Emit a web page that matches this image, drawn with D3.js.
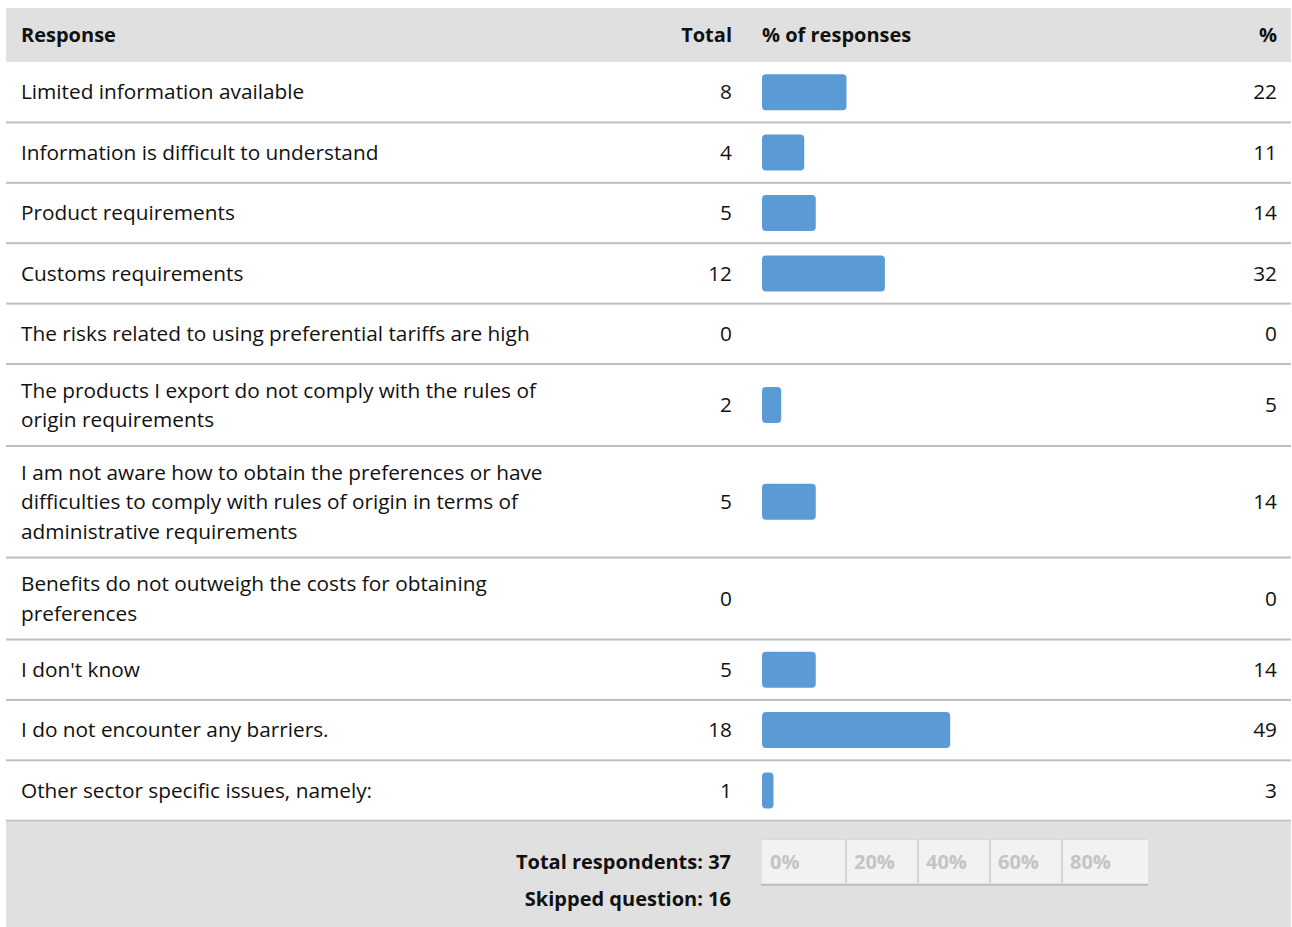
<!DOCTYPE html>
<html><head><meta charset="utf-8">
<script src="https://cdn.jsdelivr.net/npm/d3@7"></script>
<style>html,body{margin:0;padding:0;background:#fff;}svg{display:block;}</style>
</head><body>
<svg id="chart" width="1292" height="927"></svg>
<script>
const responses = [
  "Limited information available",
  "Information is difficult to understand",
  "Product requirements",
  "Customs requirements",
  "The risks related to using preferential tariffs are high",
  "The products I export do not comply with the rules of\norigin requirements",
  "I am not aware how to obtain the preferences or have\ndifficulties to comply with rules of origin in terms of\nadministrative requirements",
  "Benefits do not outweigh the costs for obtaining\npreferences",
  "I don't know",
  "I do not encounter any barriers.",
  "Other sector specific issues, namely:"
];
const totals = [8, 4, 5, 12, 0, 2, 5, 0, 5, 18, 1];
const percents = [22, 11, 14, 32, 0, 5, 14, 0, 14, 49, 3];
const axisTicks = [0, 20, 40, 60, 80];
const headers = ["Response", "Total", "% of responses", "%"];
const totalRespondents = 37;
const skippedQuestion = 16;

const svg = d3.select("#chart");
const font = "'Open Sans', sans-serif";
const fs = 20.8, fsb = 20;
const left = 6, right = 1291;
const headTop = 8, headH = 54;
const colLabel = 21, colTotal = 732, barX = 762, colPct = 1277;

// row geometry
const lines = responses.map(r => r.split("\n"));
const rowH = lines.map(l => Math.max(60.4, 23 + 29.5 * l.length));
const rowY = [];
let yAcc = headTop + headH;
rowH.forEach(h => { rowY.push(yAcc); yAcc += h; });
const footTop = yAcc;

const x = d3.scaleLinear().domain([0, 100]).range([0, 384]);

// header
svg.append("rect").attr("x", left).attr("y", headTop).attr("width", right - left).attr("height", headH).attr("fill", "#e0e0e0");
const hy = headTop + headH / 2;
const hdr = svg.append("g").attr("font-family", font).attr("font-size", fsb).attr("font-weight", "bold").attr("fill", "#111");
hdr.append("text").attr("x", colLabel).attr("y", hy).attr("dy", "0.35em").text(headers[0]);
hdr.append("text").attr("x", colTotal).attr("y", hy).attr("dy", "0.35em").attr("text-anchor", "end").text(headers[1]);
hdr.append("text").attr("x", barX).attr("y", hy).attr("dy", "0.35em").text(headers[2]);
hdr.append("text").attr("x", colPct).attr("y", hy).attr("dy", "0.35em").attr("text-anchor", "end").text(headers[3]);

// rows
const rows = svg.append("g").selectAll("g.row").data(responses).join("g").attr("class", "row")
  .attr("transform", (d, i) => `translate(0,${rowY[i]})`);

rows.each(function(d, i) {
  const g = d3.select(this);
  const h = rowH[i];
  const cy = h / 2;
  const ls = lines[i];
  const t = g.append("text").attr("font-family", font).attr("font-size", fs).attr("fill", "#111");
  ls.forEach((ln, k) => {
    t.append("tspan").attr("x", colLabel).attr("y", cy + (k - (ls.length - 1) / 2) * 29.5).attr("dy", "0.35em").text(ln);
  });
  g.append("text").attr("font-family", font).attr("font-size", fs).attr("fill", "#111")
    .attr("x", colTotal).attr("y", cy).attr("dy", "0.35em").attr("text-anchor", "end").text(totals[i]);
  g.append("text").attr("font-family", font).attr("font-size", fs).attr("fill", "#111")
    .attr("x", colPct).attr("y", cy).attr("dy", "0.35em").attr("text-anchor", "end").text(percents[i]);
  if (percents[i] > 0) {
    g.append("rect").attr("x", barX).attr("y", cy - 18).attr("width", x(percents[i])).attr("height", 36)
      .attr("rx", 4).attr("ry", 4).attr("fill", "#5b9bd5");
  }
  // separator
  g.append("rect").attr("x", left).attr("y", h - 1).attr("width", right - left).attr("height", 2).attr("fill", "#bfbfbf");
});

// footer
const footH = 927 - footTop;
svg.append("rect").attr("x", left).attr("y", footTop + 1).attr("width", right - left).attr("height", footH).attr("fill", "#e0e0e0");
const ft = svg.append("g").attr("font-family", font).attr("font-size", fsb).attr("font-weight", "bold").attr("fill", "#111");
ft.append("text").attr("x", colTotal - 1).attr("y", footTop + 41).attr("dy", "0.35em").attr("text-anchor", "end").text("Total respondents: " + totalRespondents);
ft.append("text").attr("x", colTotal - 1).attr("y", footTop + 78).attr("dy", "0.35em").attr("text-anchor", "end").text("Skipped question: " + skippedQuestion);

// axis box
const xa = d3.scaleLinear().domain([0, 100]).range([774, 1134]);
const boxL = 762, boxR = 1148, boxT = footTop + 18, boxB = footTop + 64;
const ax = svg.append("g");
ax.append("rect").attr("x", boxL).attr("y", boxT).attr("width", boxR - boxL).attr("height", boxB - boxT).attr("fill", "#f2f2f2");
ax.append("line").attr("x1", boxL).attr("x2", boxR).attr("y1", boxT + 0.5).attr("y2", boxT + 0.5).attr("stroke", "#cfcfcf").attr("stroke-width", 1);
ax.append("line").attr("x1", boxL - 1).attr("x2", boxR).attr("y1", boxB).attr("y2", boxB).attr("stroke", "#bdbdbd").attr("stroke-width", 2);
ax.selectAll("line.div").data(axisTicks.filter(t => t > 0)).join("line").attr("class", "div")
  .attr("x1", d => xa(d)).attr("x2", d => xa(d)).attr("y1", boxT).attr("y2", boxB)
  .attr("stroke", "#d6d6d6").attr("stroke-width", 2);
ax.selectAll("text").data(axisTicks).join("text")
  .attr("x", d => (d === 0 ? boxL : xa(d)) + 8).attr("y", (boxT + boxB) / 2).attr("dy", "0.35em")
  .attr("font-family", font).attr("font-size", fsb).attr("font-weight", "bold").attr("fill", "#c4c4c4")
  .text(d => d + "%");
</script>
</body></html>
